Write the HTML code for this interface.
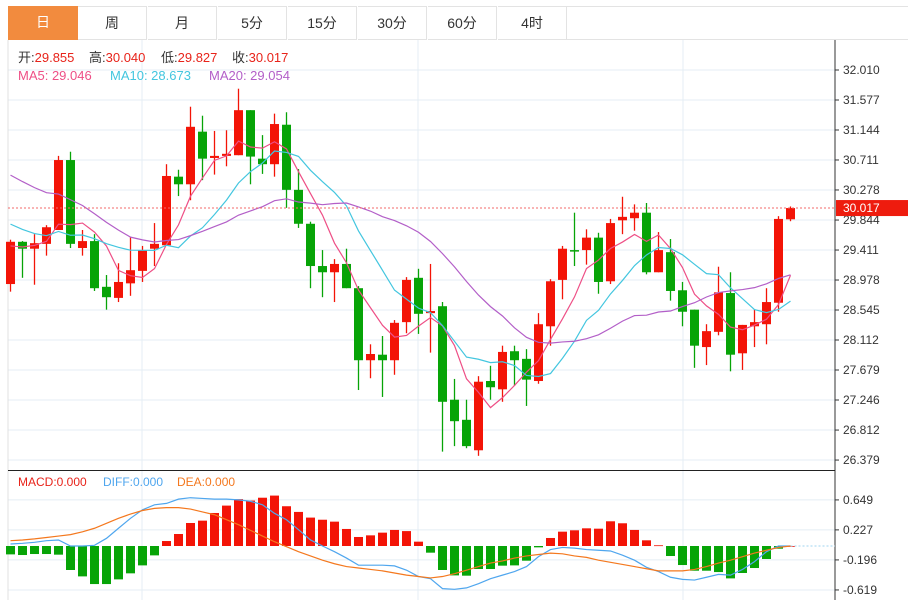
<!DOCTYPE html>
<html><head><meta charset="utf-8">
<style>
body{margin:0;background:#fff;font-family:"Liberation Sans","Noto Sans CJK SC",sans-serif;}
#wrap{position:relative;width:908px;height:600px;overflow:hidden;}
.tab{position:absolute;top:6px;height:34px;width:69px;border:1px solid #e3e3e3;border-left:none;box-sizing:border-box;text-align:center;line-height:33px;font-size:14px;color:#333;}
</style></head><body>
<div id="wrap">
<div>
<div class="tab" style="left:8px;width:70px;background:#f28b3e;color:#fff;border:none;">日</div>
<div class="tab" style="left:78px;">周</div>
<div class="tab" style="left:148px;">月</div>
<div class="tab" style="left:218px;">5分</div>
<div class="tab" style="left:288px;">15分</div>
<div class="tab" style="left:358px;">30分</div>
<div class="tab" style="left:428px;">60分</div>
<div class="tab" style="left:498px;">4时</div>
<div style="position:absolute;left:567px;top:39px;width:341px;height:1px;background:#e3e3e3"></div>
<div style="position:absolute;left:567px;top:6px;width:341px;height:1px;background:#e3e3e3"></div>
</div>
<svg id="chart" width="908" height="600" style="position:absolute;left:0;top:0"></svg>
</div>
<script>
const opens=[28.92,29.53,29.43,29.50,29.70,30.71,29.44,29.54,28.88,28.72,28.93,29.11,29.43,29.48,30.47,30.36,31.12,30.74,30.77,30.78,31.43,30.73,30.65,31.22,30.28,29.79,29.18,29.09,29.21,28.86,27.82,27.90,27.82,28.37,29.01,28.50,28.60,27.25,26.96,26.52,27.52,27.40,27.95,27.84,27.52,28.31,28.98,29.41,29.41,29.59,28.96,29.84,29.87,29.95,29.09,29.38,28.83,28.55,28.01,28.23,28.79,27.92,28.31,28.34,28.65,29.855];
const highs=[29.56,29.54,29.64,29.77,30.77,30.83,29.70,29.64,29.05,29.22,29.60,29.47,29.80,30.65,30.57,31.48,31.35,31.13,31.14,31.74,31.43,31.07,31.38,31.40,30.58,29.82,29.41,29.28,29.43,28.89,28.05,28.17,28.40,29.02,29.14,29.21,28.66,27.55,27.25,27.59,27.74,28.03,28.03,27.98,28.50,28.99,29.47,29.95,29.71,29.66,29.86,30.18,30.07,30.09,29.67,29.57,28.95,28.55,28.34,29.17,29.09,28.33,28.55,28.86,29.90,30.040];
const lows=[28.81,29.01,28.91,29.33,29.70,29.44,29.33,28.82,28.55,28.66,28.75,28.95,29.18,29.48,30.19,30.13,30.42,30.50,30.62,30.78,30.36,30.51,30.47,30.02,29.73,28.86,28.73,28.66,28.86,27.39,27.56,27.29,27.61,28.21,28.20,27.93,26.50,26.58,26.55,26.44,27.25,27.22,27.45,27.16,27.48,28.03,28.70,29.18,29.20,28.78,28.92,29.64,29.69,29.06,29.09,28.68,28.31,27.71,27.75,28.18,27.66,27.68,28.01,28.05,28.52,29.827];
const closes=[29.53,29.43,29.51,29.74,30.71,29.50,29.54,28.86,28.73,28.95,29.12,29.41,29.50,30.48,30.36,31.19,30.73,30.77,30.80,31.43,30.76,30.65,31.23,30.28,29.79,29.18,29.09,29.21,28.86,27.82,27.91,27.82,28.36,28.98,28.49,28.53,27.22,26.94,26.58,27.51,27.43,27.94,27.82,27.54,28.34,28.96,29.43,29.40,29.59,28.95,29.80,29.89,29.95,29.09,29.41,28.82,28.52,28.03,28.24,28.80,27.90,28.33,28.37,28.66,29.86,30.017];
const priorCloses=[31.30,31.25,31.20,31.10,31.15,31.20,31.25,31.20,31.20,31.15,30.20,30.10,30.05,30.10,30.05,29.50,29.40,29.45,29.47];
const macdBars=[-0.118,-0.127,-0.113,-0.113,-0.122,-0.338,-0.428,-0.536,-0.536,-0.47,-0.385,-0.273,-0.132,0.07,0.169,0.324,0.357,0.465,0.569,0.66,0.64,0.68,0.71,0.56,0.48,0.40,0.37,0.343,0.24,0.127,0.15,0.188,0.226,0.21,0.061,-0.094,-0.338,-0.414,-0.418,-0.324,-0.324,-0.277,-0.273,-0.207,-0.019,0.113,0.202,0.221,0.249,0.244,0.348,0.32,0.226,0.08,0.01,-0.141,-0.268,-0.348,-0.348,-0.367,-0.456,-0.38,-0.31,-0.183,-0.038,0.0];
const diffLine=[0.028,0.038,0.052,0.075,0.085,0,0,0.01,0.108,0.25,0.39,0.51,0.58,0.60,0.66,0.68,0.67,0.66,0.66,0.65,0.63,0.58,0.46,0.37,0.23,0.085,0,-0.08,-0.17,-0.27,-0.27,-0.27,-0.28,-0.34,-0.43,-0.46,-0.60,-0.61,-0.59,-0.53,-0.46,-0.41,-0.36,-0.29,-0.15,-0.05,-0.02,-0.03,-0.05,-0.06,-0.07,-0.13,-0.20,-0.30,-0.36,-0.44,-0.47,-0.48,-0.44,-0.40,-0.41,-0.33,-0.22,-0.08,0,0];
const deaLine=[0.075,0.085,0.10,0.12,0.14,0.16,0.20,0.25,0.32,0.39,0.45,0.50,0.53,0.54,0.54,0.52,0.48,0.44,0.37,0.30,0.22,0.14,0.06,-0.01,-0.08,-0.14,-0.20,-0.25,-0.29,-0.31,-0.33,-0.35,-0.38,-0.41,-0.43,-0.45,-0.43,-0.39,-0.34,-0.29,-0.24,-0.21,-0.17,-0.14,-0.12,-0.10,-0.11,-0.14,-0.16,-0.20,-0.23,-0.26,-0.29,-0.32,-0.35,-0.35,-0.35,-0.33,-0.29,-0.24,-0.20,-0.15,-0.10,-0.06,-0.02,0];
const priceTicks=[32.010,31.577,31.144,30.711,30.278,29.844,29.411,28.978,28.545,28.112,27.679,27.246,26.812,26.379];
const macdTicks=[0.649,0.227,-0.196,-0.619];

const svg=document.getElementById('chart');
const NS='http://www.w3.org/2000/svg';
function mk(tag,attrs,parent){const e=document.createElementNS(NS,tag);for(const k in attrs)e.setAttribute(k,attrs[k]);(parent||svg).appendChild(e);return e;}
const L=8,R=835;
const xOf=i=>10.5+12*i;
const yP=v=>70+(32.010-v)*30/0.4331;
const yM=v=>546+(0-v)*30/0.4225;
const RED='#f31407',GREEN='#07a407';
priceTicks.forEach((t,k)=>{const y=yP(t);
 const g=mk('line',{x1:L,x2:R,y1:y,y2:y,stroke:'#e4edf4','stroke-width':1});
 
 mk('line',{x1:R,x2:R+4,y1:y,y2:y,stroke:'#333'});
 const tx=mk('text',{x:843,y:y+4,'font-size':12,fill:'#333'});tx.textContent=t.toFixed(3);
 
});
macdTicks.forEach(t=>{const y=yM(t);
 const g=mk('line',{x1:L,x2:R,y1:y,y2:y,stroke:'#e4edf4'});
 
 mk('line',{x1:R,x2:R+4,y1:y,y2:y,stroke:'#333'});
 const tx=mk('text',{x:843,y:y+4,'font-size':12,fill:'#333'});tx.textContent=t.toFixed(3);
 
});
[142,418,683].forEach(x=>{const v=mk('line',{x1:x,x2:x,y1:40,y2:600,stroke:'#e4edf4'});
 });
mk('line',{x1:L,x2:L,y1:40,y2:600,stroke:'#e0e0e0'});
const ax=mk('line',{x1:R,x2:R,y1:40,y2:600,stroke:'#333'});

const sep=mk('line',{x1:L,x2:R,y1:470.5,y2:470.5,stroke:'#222'});

opens.forEach((o,i)=>{const c=closes[i],up=c>=o,col=up?RED:GREEN,x=xOf(i);
 const g=mk('g',{});
 
 mk('line',{x1:x,x2:x,y1:yP(highs[i]),y2:yP(lows[i]),stroke:col,'stroke-width':1.3},g);
 const t=yP(Math.max(o,c)),b=yP(Math.min(o,c));
 mk('rect',{x:x-4.5,y:t,width:9,height:Math.max(1.5,b-t),fill:col},g);
});
const all=priorCloses.concat(closes);
function ma(n){return closes.map((_,i)=>{const j=i+priorCloses.length;let s=0;for(let k=j-n+1;k<=j;k++)s+=all[k];return s/n;});}
[[5,'#ee4f86','ma5-line'],[10,'#43c6df','ma10-line'],[20,'#b35fc8','ma20-line']].forEach(([n,col,name])=>{
 const m=ma(n);const p=mk('polyline',{points:m.map((v,i)=>xOf(i)+','+yP(v)).join(' '),fill:'none',stroke:col,'stroke-width':1.2});
 
});
const lc=closes[closes.length-1],ly=yP(lc);
const ll=mk('line',{x1:L,x2:R,y1:ly,y2:ly,stroke:'#f36a6a','stroke-dasharray':'2,2'});

const lb=mk('rect',{x:R+1,y:ly-8,width:72,height:16,fill:'#ee1c0e'});

const lt=mk('text',{x:843,y:ly+4,'font-size':12,fill:'#fff'});lt.textContent=lc.toFixed(3);

macdBars.forEach((v,i)=>{const x=xOf(i),y0=yM(0),y1=yM(v);
 const r=mk('rect',{x:x-4.5,y:Math.min(y0,y1),width:9,height:Math.max(0.8,Math.abs(y1-y0)),fill:v>=0?RED:GREEN});
 
});
const zl=mk('line',{x1:xOf(macdBars.length-1),x2:R,y1:yM(0),y2:yM(0),stroke:'#9fd4f0','stroke-dasharray':'2,2'});

const dl=mk('polyline',{points:diffLine.map((v,i)=>xOf(i)+','+yM(v)).join(' '),fill:'none',stroke:'#4fa6ee','stroke-width':1.2});

const el=mk('polyline',{points:deaLine.map((v,i)=>xOf(i)+','+yM(v)).join(' '),fill:'none',stroke:'#f4781e','stroke-width':1.2});

function txt(y,parts,size,name){const t=mk('text',{x:parts[0][2],y:y,'font-size':size});
 
 parts.forEach(([s,c,x])=>{const a={fill:c};if(x!==undefined)a.x=x;const sp=mk('tspan',a,t);sp.textContent=s;});}
txt(62,[['开:','#333',18],['29.855','#e8231a'],['高:','#333',89],['30.040','#e8231a'],['低:','#333',161],['29.827','#e8231a'],['收:','#333',232],['30.017','#e8231a']],13,'ohlc-header');
txt(80,[['MA5: 29.046','#ee4f86',18],['MA10: 28.673','#43c6df',110],['MA20: 29.054','#b35fc8',209]],13,'ma-legend');
txt(486,[['MACD:0.000','#e8231a',18],['DIFF:0.000','#4fa6ee',103],['DEA:0.000','#f4781e',177]],12,'macd-legend');
</script>
</body></html>
